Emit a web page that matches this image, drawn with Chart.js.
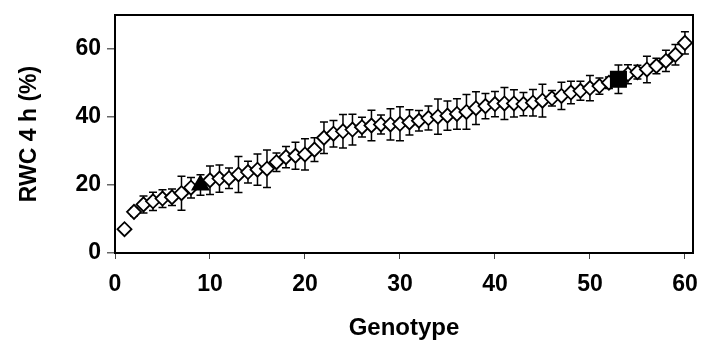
<!DOCTYPE html>
<html>
<head>
<meta charset="utf-8">
<script src="https://cdn.jsdelivr.net/npm/chart.js@4/dist/chart.umd.min.js"></script>
<style>
html,body{margin:0;padding:0;background:#fff;}
#wrap{width:701px;height:345px;position:relative;}
</style>
</head>
<body>
<div id="wrap"><canvas id="c" width="701" height="345"></canvas></div>
<script>
// Genotype index 1..60
const genotypes = Array.from({length: 60}, (_, i) => i + 1);
const rwcValues = [
  7.0, 12.1, 14.3, 15.2, 16.0, 16.4, 17.6, 19.2, 20.0, 21.4,
  21.9, 22.0, 23.1, 23.8, 24.5, 24.8, 26.7, 28.2, 28.6, 29.0,
  30.4, 33.9, 35.1, 35.8, 36.3, 37.0, 37.5, 37.8, 37.8, 38.0,
  38.4, 38.9, 39.7, 40.1, 40.4, 40.9, 41.5, 42.6, 43.2, 43.8,
  44.0, 44.0, 43.8, 44.2, 44.8, 45.5, 46.2, 47.2, 47.7, 48.5,
  49.1, 50.1, 51.1, 52.6, 53.2, 54.0, 55.0, 56.5, 58.3, 61.8
];
const rwcErrors = [
  0.8, 1.2, 2.5, 2.7, 2.6, 2.4, 5.0, 3.0, 3.0, 4.2,
  4.0, 3.0, 5.3, 3.2, 4.6, 5.5, 2.7, 3.1, 4.0, 4.6,
  3.5, 4.6, 3.9, 4.9, 4.5, 2.9, 4.5, 2.8, 4.6, 5.0,
  3.7, 3.0, 3.5, 5.2, 4.3, 4.5, 5.1, 4.8, 3.7, 3.7,
  4.7, 4.0, 3.4, 3.9, 4.8, 2.3, 4.0, 3.3, 2.8, 3.7,
  2.4, 1.7, 4.2, 2.8, 2.0, 3.9, 2.3, 3.1, 3.0, 3.3
];
const triangleGenotype = 9;
const squareGenotype = 53;
const xTickLabels = [0, 10, 20, 30, 40, 50, 60];
const yTickLabels = [0, 20, 40, 60];

const points = genotypes.map((g, i) => ({x: g, y: rwcValues[i], e: rwcErrors[i]}));
const isSpecial = p => p.x === triangleGenotype || p.x === squareGenotype;
const regularPoints = points.filter(p => !isSpecial(p));
const specialPoints = points.filter(isSpecial);

const FONT = '"Liberation Sans", Arial, sans-serif';

const errorBars = {
  id: 'errorBars',
  beforeDatasetsDraw(chart) {
    const ctx = chart.ctx;
    const xs = chart.scales.x, ys = chart.scales.y;
    ctx.save();
    ctx.strokeStyle = '#000';
    ctx.lineWidth = 1.5;
    points.forEach(p => {
      const px = xs.getPixelForValue(p.x);
      const top = ys.getPixelForValue(p.y + p.e);
      const bot = ys.getPixelForValue(p.y - p.e);
      ctx.beginPath();
      ctx.moveTo(px, top); ctx.lineTo(px, bot);
      ctx.moveTo(px - 4, top); ctx.lineTo(px + 4, top);
      ctx.moveTo(px - 4, bot); ctx.lineTo(px + 4, bot);
      ctx.stroke();
    });
    ctx.restore();
  }
};

const frame = {
  id: 'frame',
  afterDatasetsDraw(chart) {
    const {left, right, top, bottom} = chart.chartArea;
    const ctx = chart.ctx;
    ctx.save();
    ctx.strokeStyle = '#000';
    ctx.lineWidth = 2;
    ctx.strokeRect(left, top, right - left, bottom - top);
    ctx.restore();
  }
};

new Chart(document.getElementById('c'), {
  type: 'scatter',
  data: {
    datasets: [{
      // highlighted genotypes, drawn on top
      data: specialPoints,
      showLine: false,
      pointStyle: c => (c.raw && c.raw.x === triangleGenotype) ? 'triangle' : 'rect',
      pointRadius: c => (c.raw && c.raw.x === triangleGenotype) ? 9.5 : 11,
      pointBackgroundColor: '#000',
      pointBorderColor: '#000',
      pointBorderWidth: 1.5
    }, {
      data: regularPoints,
      showLine: false,
      pointStyle: 'rectRot',
      pointRadius: 7,
      pointBackgroundColor: '#fff',
      pointBorderColor: '#000',
      pointBorderWidth: 1.8
    }]
  },
  options: {
    responsive: false,
    animation: false,
    events: [],
    layout: {autoPadding: false, padding: {top: 15, right: 8, left: 0, bottom: 0}},
    plugins: {legend: {display: false}, tooltip: {enabled: false}},
    scales: {
      x: {
        type: 'linear', min: 0, max: 60.85,
        afterBuildTicks: s => { s.ticks = xTickLabels.map(v => ({value: v})); },
        afterFit: s => { s.height = 92; s.paddingLeft = 0; s.paddingRight = 0; },
        grid: {display: true, drawOnChartArea: false, drawTicks: true, tickLength: 6, color: '#444', lineWidth: 1},
        border: {display: true, color: '#000', width: 2},
        ticks: {color: '#000', font: {family: FONT, size: 23, weight: 'bold'}, padding: 12, maxRotation: 0},
        title: {display: true, text: 'Genotype', color: '#000', font: {family: FONT, size: 24, weight: 'bold'}, padding: {top: 6, bottom: 2}}
      },
      y: {
        type: 'linear', min: 0, max: 70,
        afterBuildTicks: s => { s.ticks = yTickLabels.map(v => ({value: v})); },
        afterFit: s => { s.width = 115; s.paddingTop = 0; s.paddingBottom = 0; },
        grid: {display: true, drawOnChartArea: false, drawTicks: true, tickLength: 8, color: '#666', lineWidth: 1.5},
        border: {display: true, color: '#000', width: 2},
        ticks: {color: '#000', font: {family: FONT, size: 23, weight: 'bold'}, padding: 6},
        title: {display: true, text: 'RWC 4 h (%)', color: '#000', font: {family: FONT, size: 23, weight: 'bold'}, padding: {bottom: 0, top: 16}}
      }
    }
  },
  plugins: [errorBars, frame]
});
</script>
</body>
</html>
